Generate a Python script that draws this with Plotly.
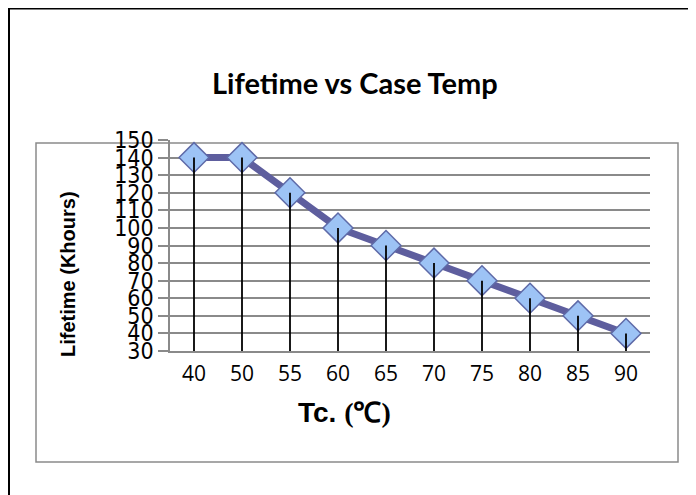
import plotly.graph_objects as go

categories = ["40", "50", "55", "60", "65", "70", "75", "80", "85", "90"]
lifetime = [140, 140, 120, 100, 90, 80, 70, 60, 50, 40]
y_ticks = [30, 40, 50, 60, 70, 80, 90, 100, 110, 120, 130, 140, 150]
y_min, y_max = 30, 150

OFF = 8  # page body margin
W, H = 696 - OFF, 495 - OFF
# plot area in page pixels
L, R, T, B = 170, 650, 140, 351

def px(x):
    return (x - L) / (R - L)

def py(y):
    return (B - y) / (B - T)

fig = go.Figure()

fig.add_trace(go.Scatter(
    x=categories, y=lifetime, mode="lines+markers",
    line=dict(color="#5E5E9E", width=7),
    marker=dict(symbol="diamond", size=23, color="#9DC3F5",
                line=dict(color="#5E6AA8", width=1.5)),
    showlegend=False, hoverinfo="skip",
))

# drop lines from each point to the axis floor
dx, dy = [], []
for c, v in zip(categories, lifetime):
    dx += [c, c, None]
    dy += [v, y_min, None]
fig.add_trace(go.Scatter(
    x=dx, y=dy, mode="lines", line=dict(color="black", width=1.8),
    showlegend=False, hoverinfo="skip",
))

fig.update_layout(
    width=W, height=H,
    margin=dict(l=L - OFF, r=696 - R, t=T - OFF, b=495 - B),
    paper_bgcolor="white", plot_bgcolor="white",
    xaxis=dict(
        type="category", range=[-0.5, len(categories) - 0.5],
        showgrid=False, showline=True, linecolor="#8A8A8A", linewidth=1.5,
        ticks="", tickfont=dict(family="Open Sans", size=21, color="black"),
        ticklabelstandoff=3,
        zeroline=False, fixedrange=True,
    ),
    yaxis=dict(
        range=[y_min, y_max], tickvals=y_ticks, ticktext=[str(t) for t in y_ticks],
        showgrid=True, gridcolor="#8A8A8A", gridwidth=1.5,
        showline=True, linecolor="#8A8A8A", linewidth=1.5,
        ticks="outside", ticklen=10, tickcolor="#8A8A8A", tickwidth=1.5,
        tickfont=dict(family="DejaVu Sans Condensed, DejaVu Sans", size=23, color="black"),
        zeroline=False, fixedrange=True,
    ),
    shapes=[
        dict(type="rect", xref="paper", yref="paper",
             x0=px(9), x1=px(720), y0=py(520), y1=py(8.5),
             line=dict(color="black", width=2), layer="below"),
        dict(type="rect", xref="paper", yref="paper",
             x0=px(36), x1=px(678), y0=py(462), y1=py(143),
             line=dict(color="#8A8A8A", width=1.5), layer="below"),
    ],
    annotations=[
        dict(text="<b>Lifetime vs Case Temp</b>", xref="paper", yref="paper",
             x=px(355), y=py(82), xanchor="center", yanchor="middle", showarrow=False,
             font=dict(family="Lato", size=29, color="black")),
        dict(text="<b>Lifetime (Khours)</b>", xref="paper", yref="paper",
             x=px(68), y=py(274), xanchor="center", yanchor="middle",
             showarrow=False, textangle=-90,
             font=dict(family="Liberation Sans", size=20, color="black")),
        dict(text="<b>Tc. </b><span style=\"font-family:'Liberation Serif'\"><b>(℃)</b></span>",
             xref="paper", yref="paper",
             x=px(344), y=py(412), xanchor="center", yanchor="middle", showarrow=False,
             font=dict(family="Liberation Sans", size=28, color="black")),
    ],
)

fig.write_html("out.html")
